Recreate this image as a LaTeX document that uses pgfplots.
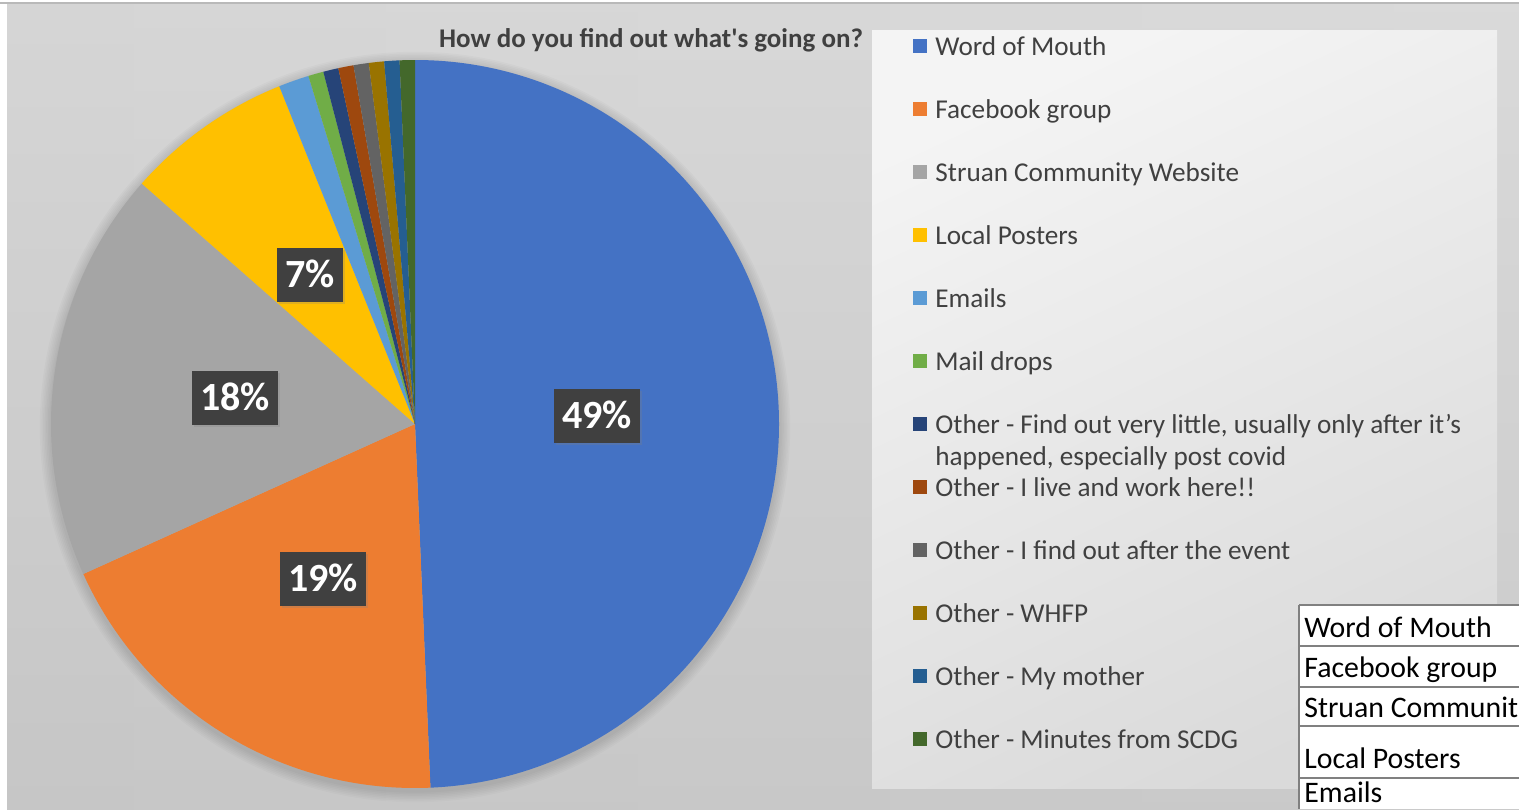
\documentclass[border=0pt]{standalone}
\usepackage{pgfplots}
\pgfplotsset{compat=1.18}
\usepackage{pgfplotstable}
\usepackage{fontspec}
\setmainfont{Carlito}
\newfontfamily\plain{Carlito}
\usetikzlibrary{shadows}

\definecolor{c1}{HTML}{4472C4}
\definecolor{c2}{HTML}{ED7D31}
\definecolor{c3}{HTML}{A5A5A5}
\definecolor{c4}{HTML}{FFC000}
\definecolor{c5}{HTML}{5B9BD5}
\definecolor{c6}{HTML}{70AD47}
\definecolor{c7}{HTML}{264478}
\definecolor{c8}{HTML}{9E480E}
\definecolor{c9}{HTML}{636363}
\definecolor{c10}{HTML}{997300}
\definecolor{c11}{HTML}{255E91}
\definecolor{c12}{HTML}{43682B}
\definecolor{txt}{HTML}{404040}
\definecolor{lab}{HTML}{404040}
\definecolor{bgL}{HTML}{C4C4C4}
\definecolor{bgM}{HTML}{F2F2F2}
\definecolor{bgR}{HTML}{CACACA}
\definecolor{pnA}{HTML}{F4F4F4}
\definecolor{pnB}{HTML}{DADADA}

% responses per answer (clockwise from 12 o'clock)
\pgfplotstableread{
n  col
73 c1
28 c2
27 c3
11 c4
2  c5
1  c6
1  c7
1  c8
1  c9
1  c10
1  c11
1  c12
}\piedata

\begin{document}
\begin{tikzpicture}
\begin{axis}[
    x=0.5pt, y=0.5pt,
    xmin=0, xmax=1519, ymin=0, ymax=809,
    y dir=reverse,
    hide axis,
]
% background
\fill[white] (axis cs:0,0) rectangle (axis cs:1519,809);
\shade[left color=bgL, middle color=bgM, right color=bgR]
    (axis cs:7,4) rectangle (axis cs:1519,809);
\shade[top color=white, bottom color=gray!40, opacity=0.3]
    (axis cs:7,4) rectangle (axis cs:1519,809);
\draw[gray!55, line width=0.8pt] (axis cs:0,3) -- (axis cs:1519,3);
% legend panel
\shade[top color=pnA, bottom color=pnB, shading angle=25]
    (axis cs:872,30) rectangle (axis cs:1497,788);

% soft shadow round the pie
\pgfplotsforeachungrouped \k in {1,...,7}{%
  \pgfmathsetmacro{\rr}{182+0.8*\k}
  \edef\temp{\noexpand\fill[black, opacity=0.018] (axis cs:415,427) circle[radius=\rr pt];}
  \temp
}

% pie slices from the table
\pgfplotstablegetrowsof{\piedata}
\pgfmathtruncatemacro{\nlast}{\pgfplotsretval-1}
\def\total{0}
\pgfplotsforeachungrouped \i in {0,...,\nlast}{%
  \pgfplotstablegetelem{\i}{n}\of\piedata
  \pgfmathsetmacro{\total}{\total+\pgfplotsretval}
}
\def\cum{0}
\pgfplotsforeachungrouped \i in {0,...,\nlast}{%
  \pgfplotstablegetelem{\i}{n}\of\piedata \let\val\pgfplotsretval
  \pgfplotstablegetelem{\i}{col}\of\piedata \let\colr\pgfplotsretval
  \pgfmathsetmacro{\a}{90-\cum/\total*360}
  \pgfmathsetmacro{\b}{90-(\cum+\val)/\total*360}
  \edef\temp{\noexpand\fill[\colr] (axis cs:415,424) -- ++(\a:182pt)
     arc[start angle=\a, end angle=\b, radius=182pt] -- cycle;}
  \temp
  \pgfmathsetmacro{\cum}{\cum+\val}
}

% data labels
\tikzset{dl/.style={fill=lab, text=white, font=\bfseries\fontsize{20}{20}\selectfont,
    inner xsep=4pt, inner ysep=7pt, text height=12.8pt, text depth=0pt,
    drop shadow={shadow xshift=1pt, shadow yshift=-1pt, opacity=0.25}}}
\node[dl] at (axis cs:597,416) {49\%};
\node[dl] at (axis cs:323,579) {19\%};
\node[dl] at (axis cs:235,398) {18\%};
\node[dl] at (axis cs:310,275) {7\%};

% title
\node[font=\bfseries\fontsize{13.5}{15}\selectfont, text=txt, anchor=base]
    at (axis cs:651,47) {How do you find out what{\plain '}s going on?};

% legend
\tikzset{lg/.style={anchor=base west, text=txt, font=\fontsize{13.6}{16}\selectfont, inner sep=0pt}}
\pgfplotsforeachungrouped \i in {1,...,12}{%
  \pgfmathsetmacro{\ya}{55+63*(\i-1)-16}
  \pgfmathsetmacro{\yb}{55+63*(\i-1)-2}
  \edef\temp{\noexpand\fill[c\i] (axis cs:913,\ya) rectangle (axis cs:927,\yb);}
  \temp
}
\node[lg] at (axis cs:935,55)  {Word of Mouth};
\node[lg] at (axis cs:935,118) {Facebook group};
\node[lg] at (axis cs:935,181) {Struan Community Website};
\node[lg] at (axis cs:935,244) {Local Posters};
\node[lg] at (axis cs:935,307) {Emails};
\node[lg] at (axis cs:935,370) {Mail drops};
\node[lg] at (axis cs:935,433) {Other - Find out very little, usually only after it’s};
\node[lg] at (axis cs:935,465) {happened, especially post covid};
\node[lg] at (axis cs:935,496) {Other - I live and work here!!};
\node[lg] at (axis cs:935,559) {Other - I find out after the event};
\node[lg] at (axis cs:935,622) {Other - WHFP};
\node[lg] at (axis cs:935,685) {Other - My mother};
\node[lg] at (axis cs:935,748) {Other - Minutes from SCDG};

% spreadsheet cells overlapping the chart
\fill[white] (axis cs:1299,605) rectangle (axis cs:1519,809);
\draw[gray, line width=1pt] (axis cs:1299,605) -- (axis cs:1299,809);
\draw[gray, line width=1pt] (axis cs:1299,605) -- (axis cs:1519,605);
\draw[gray, line width=1pt] (axis cs:1299,646) -- (axis cs:1519,646);
\draw[gray, line width=1pt] (axis cs:1299,687) -- (axis cs:1519,687);
\draw[gray, line width=1pt] (axis cs:1299,726) -- (axis cs:1519,726);
\draw[gray, line width=1pt] (axis cs:1299,778) -- (axis cs:1519,778);
\tikzset{cell/.style={anchor=base west, text=black, font=\fontsize{14.9}{16}\selectfont, inner sep=0pt}}
\node[cell] at (axis cs:1304,637) {Word of Mouth};
\node[cell] at (axis cs:1304,677) {Facebook group};
\node[cell] at (axis cs:1304,717) {Struan Communit};
\node[cell] at (axis cs:1304,768) {Local Posters};
\node[cell] at (axis cs:1304,802) {Emails};
\end{axis}
\end{tikzpicture}
\end{document}
